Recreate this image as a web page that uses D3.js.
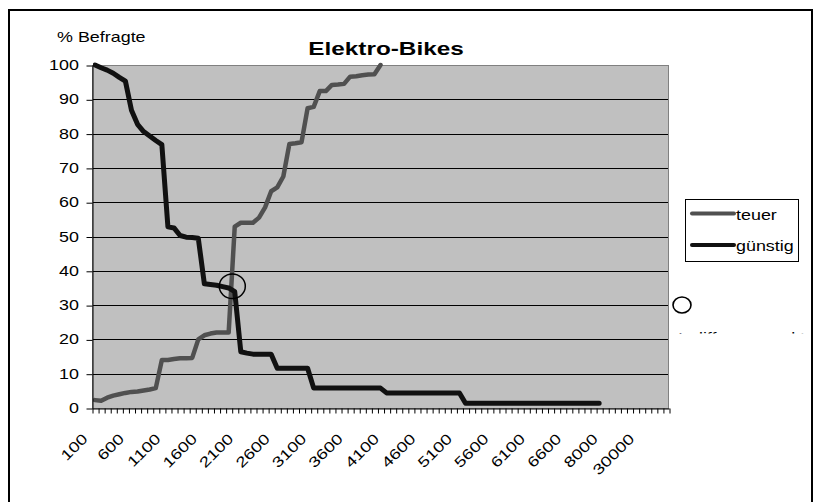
<!DOCTYPE html>
<html>
<head>
<meta charset="utf-8">
<script src="https://cdn.jsdelivr.net/npm/d3@7"></script>
<style>
  body { margin: 0; background: #fff; }
  svg text { font-family: "Liberation Sans", Arial, sans-serif; fill: #000; }
</style>
</head>
<body>
<script>
// category axis: 95 price categories, only every 6th one is labelled
const categoryCount = 95
const labelStep = 6
const tickLabels = ["100","600","1100","1600","2100","2600","3100","3600","4100","4600","5100","5600","6100","6600","8000","30000"]

// % Befragte per category (index 0 = "100")
const teuer = [2.3,2.1,3.0,3.6,4.0,4.4,4.7,4.8,5.1,5.4,5.8,14.0,14.0,14.3,14.5,14.5,14.6,20.0,21.2,21.7,22.0,22.0,22.0,
  52.9,54.0,54.0,54.0,55.5,58.5,63.2,64.3,67.5,77.0,77.2,77.5,87.4,87.8,92.4,92.4,94.2,94.3,94.5,96.6,96.7,97.0,97.2,97.3,100]
const guenstig = [100,99.2,98.5,97.6,96.4,95.3,86.8,82.7,80.6,79.3,78.0,76.8,52.8,52.5,50.3,49.8,49.7,49.5,36.2,36.0,35.8,35.4,35.0,33.9,
  16.4,16.0,15.7,15.7,15.7,15.7,11.6,11.6,11.6,11.6,11.6,11.6,
  5.8,5.8,5.8,5.8,5.8,5.8,5.8,5.8,5.8,5.8,5.8,5.8,
  4.4,4.4,4.4,4.4,4.4,4.4,4.4,4.4,4.4,4.4,4.4,4.4,4.4,
  1.4,1.4,1.4,1.4,1.4,1.4,1.4,1.4,1.4,1.4,1.4,1.4,1.4,1.4,1.4,1.4,1.4,1.4,1.4,1.4,1.4,1.4,1.4]
const series = [
  {name:"teuer", values:teuer, color:"#505050", width:4.5},
  {name:"günstig", values:guenstig, color:"#111111", width:5}
]
const yTicks = d3.range(0,101,10)
const crossing = {i:22.6, v:35.5} // Indifferenzpunkt circle

const W = 816, H = 502
const plot = {l:92, r:669, t:65, b:408}
const sx = 1.28 // the source picture is stretched sideways

const svg = d3.select("body").append("svg")
  .attr("width", W).attr("height", H)

// outer frame
svg.append("rect")
  .attr("x",9).attr("y",10).attr("width",803).attr("height",520)
  .attr("fill","none").attr("stroke","#000").attr("stroke-width",2)

const x = d3.scaleBand().domain(d3.range(categoryCount)).range([plot.l, plot.r])
const xEdge = d3.scaleLinear().domain([0, categoryCount]).range([plot.l, plot.r])
const y = d3.scaleLinear().domain([0,100]).range([plot.b, plot.t])
const cx = i => x(i) + x.bandwidth()/2
const cxf = f => xEdge(f + 0.5)

// plot background
svg.append("rect")
  .attr("x",plot.l).attr("y",plot.t).attr("width",plot.r-plot.l).attr("height",plot.b-plot.t)
  .attr("fill","#c0c0c0")

// gridlines
svg.append("g").selectAll("line").data(yTicks.filter(d=>d>0 && d<100)).join("line")
  .attr("x1",plot.l).attr("x2",plot.r)
  .attr("y1",d=>Math.round(y(d))+0.5).attr("y2",d=>Math.round(y(d))+0.5)
  .attr("stroke","#000").attr("stroke-width",1)

// plot border
svg.append("rect")
  .attr("x",plot.l+0.5).attr("y",plot.t+0.5).attr("width",plot.r-plot.l-1).attr("height",plot.b-plot.t)
  .attr("fill","none").attr("stroke","#808080")

// lines
svg.append("clipPath").attr("id","plotclip").append("rect")
  .attr("x",plot.l+1).attr("y",plot.t-4).attr("width",plot.r-plot.l).attr("height",plot.b-plot.t+8)
const line = d3.line().x((d,i)=>cx(i)).y(d=>y(d))
svg.append("g").attr("clip-path","url(#plotclip)")
  .selectAll("path").data(series).join("path")
  .attr("d",d=>line(d.values))
  .attr("fill","none").attr("stroke",d=>d.color).attr("stroke-width",d=>d.width)
  .attr("stroke-linejoin","round").attr("stroke-linecap","round")

// y axis (labels drawn separately so they can be stretched)
const yAxis = svg.append("g").attr("transform",`translate(${plot.l+0.5},0)`)
  .call(d3.axisLeft(y).tickValues(yTicks).tickSize(6).tickSizeOuter(0).tickFormat(""))
yAxis.select(".domain").attr("stroke","#000")
yAxis.selectAll(".tick line").attr("stroke","#000").attr("transform","translate(0,0.5)")
svg.append("g").selectAll("text").data(yTicks).join("text")
  .attr("transform",d=>`translate(79,${y(d)}) scale(${sx},1)`)
  .attr("text-anchor","end").attr("dy","0.36em")
  .style("font-size","14px")
  .text(d=>d)

// x axis: tick marks at category edges
const xAxis = svg.append("g").attr("transform",`translate(0,${plot.b+0.5})`)
  .call(d3.axisBottom(xEdge).tickValues(d3.range(categoryCount+1)).tickSize(5).tickSizeOuter(0).tickFormat(""))
xAxis.select(".domain").attr("stroke","#000")
xAxis.selectAll(".tick line").attr("stroke","#000").attr("transform","translate(0.5,0)")

// x labels, rotated
svg.append("g").selectAll("text").data(tickLabels).join("text")
  .attr("transform",(d,k)=>`translate(${cx(k*labelStep)-10},${plot.b+28}) rotate(-45) scale(${sx},1)`)
  .attr("text-anchor","end").attr("dy","0.35em")
  .style("font-size","14.5px")
  .text(d=>d)

// titles
svg.append("text")
  .attr("transform",`translate(386,55) scale(${sx},1)`)
  .attr("text-anchor","middle").style("font-size","19px").style("font-weight","bold")
  .text("Elektro-Bikes")
svg.append("text")
  .attr("transform",`translate(57,42) scale(${sx},1)`)
  .style("font-size","14px")
  .text("% Befragte")

// crossing circle
svg.append("ellipse")
  .attr("cx",cxf(crossing.i)).attr("cy",y(crossing.v))
  .attr("rx",13).attr("ry",12.3)
  .attr("fill","none").attr("stroke","#000").attr("stroke-width",1.5)

// legend
const lg = svg.append("g")
lg.append("rect").attr("x",685.5).attr("y",199.5).attr("width",113).attr("height",62)
  .attr("fill","#fff").attr("stroke","#000")
series.forEach((s,k)=>{
  const ly = 213.5 + k*31.5
  lg.append("line").attr("x1",692).attr("x2",734).attr("y1",ly).attr("y2",ly)
    .attr("stroke",s.color).attr("stroke-width",4).attr("stroke-linecap","round")
  lg.append("text").attr("transform",`translate(736,${ly+6}) scale(${sx},1)`)
    .style("font-size","14px").text(s.name)
})

// marker + mostly hidden note below the legend
svg.append("ellipse").attr("cx",682).attr("cy",305).attr("rx",9).attr("ry",8)
  .attr("fill","none").attr("stroke","#000").attr("stroke-width",1.6)
svg.append("clipPath").attr("id","noteclip").append("rect")
  .attr("x",670).attr("y",331.5).attr("width",140).attr("height",2)
svg.append("g").attr("clip-path","url(#noteclip)")
  .append("text")
  .attr("transform",`translate(678,342.5) scale(${sx},1)`)
  .style("font-size","14px").text("Indifferenzpunkt")
</script>
</body>
</html>
